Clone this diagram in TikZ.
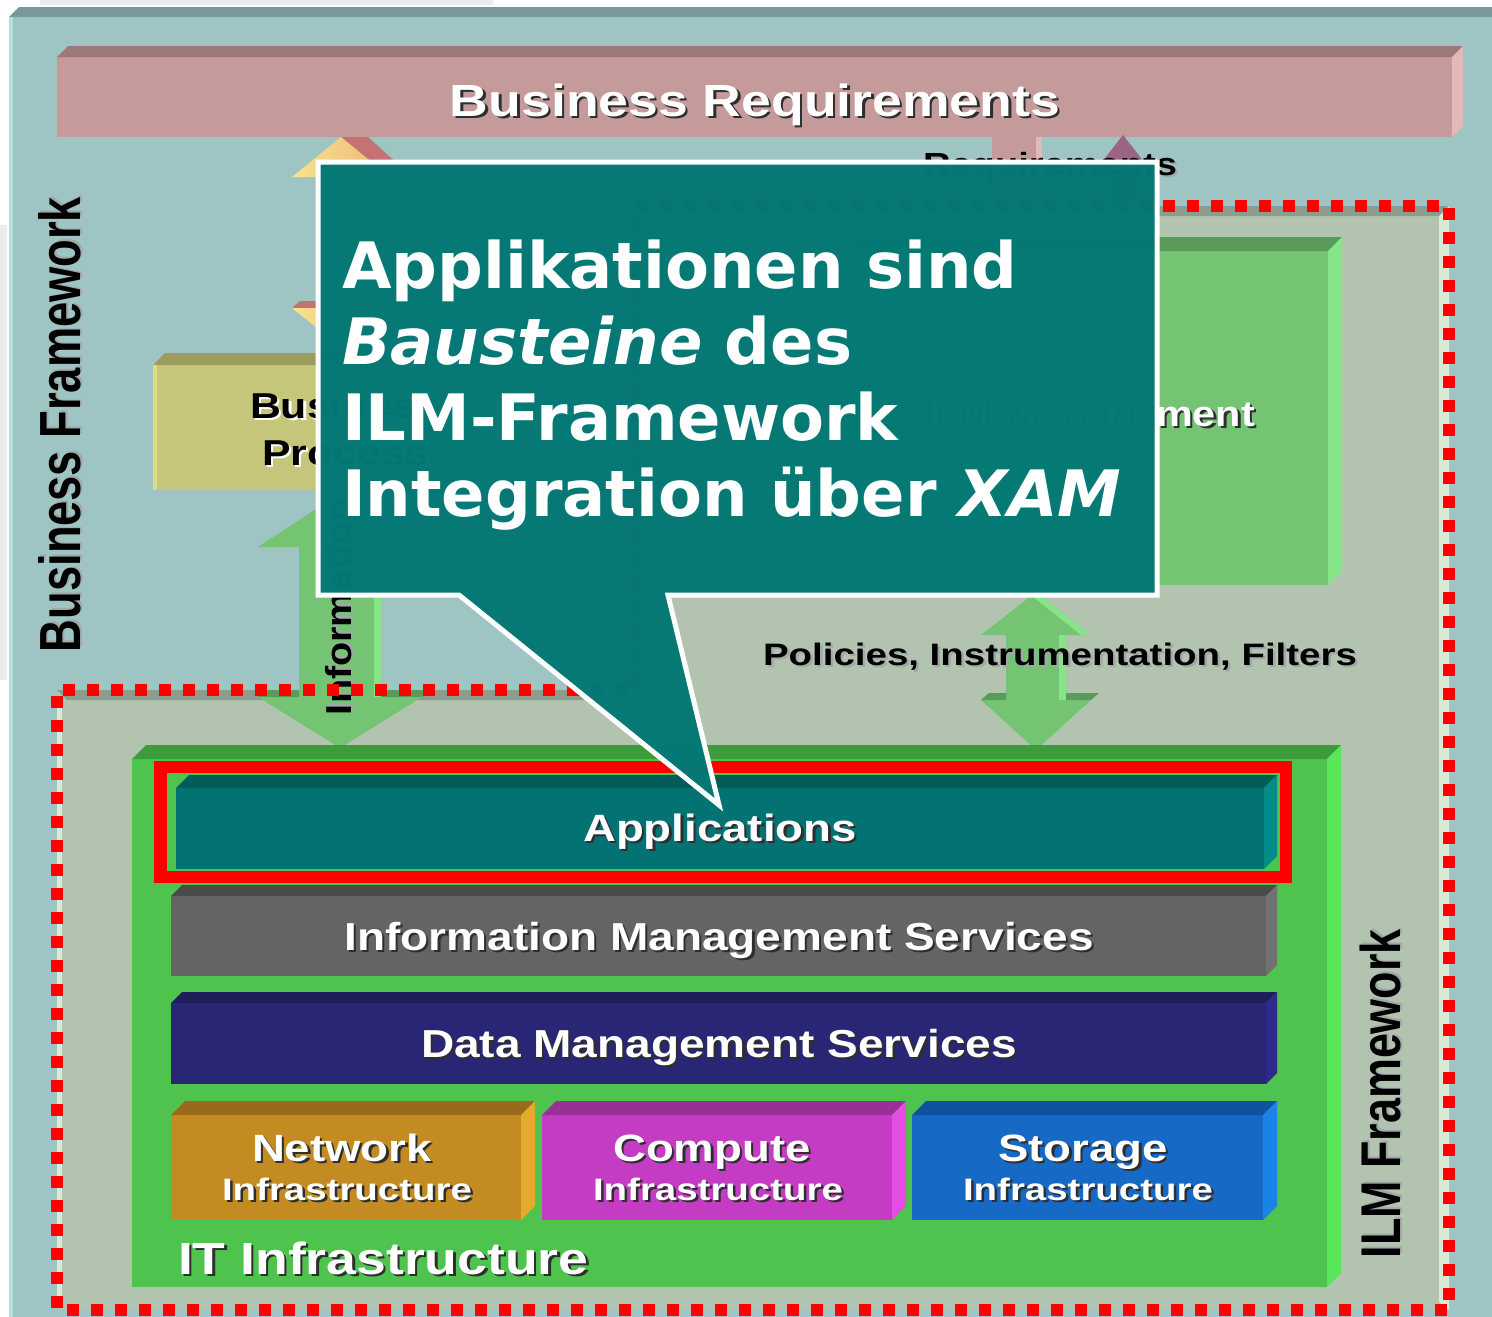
\documentclass[tikz,border=0pt]{standalone}
\usepackage{fontspec}
\usepackage{graphicx}
\setmainfont{Liberation Sans}
\newfontfamily\calloutfont{DejaVu Sans}[BoldFont={DejaVu Sans Bold},ItalicFont={DejaVu Sans Oblique},BoldItalicFont={DejaVu Sans Bold Oblique}]

% panel and layer colours
\definecolor{scrap}{HTML}{ECECEC}
\definecolor{panel}{HTML}{9EC4C4}
\definecolor{paneltop}{HTML}{799A9A}
\definecolor{paneledge}{HTML}{B6E0E0}
\definecolor{brfront}{HTML}{C49A9A}
\definecolor{brtop}{HTML}{9C7878}
\definecolor{brside}{HTML}{E4B8B8}
\definecolor{bpfront}{HTML}{C6C67A}
\definecolor{bptop}{HTML}{9C9C5E}
\definecolor{bpside}{HTML}{DCDC88}
\definecolor{ilmfill}{HTML}{B2C4B0}
\definecolor{ilmtop}{HTML}{8E9C8C}
\definecolor{ilmlight}{HTML}{D8EAD6}
\definecolor{mgfront}{HTML}{74C474}
\definecolor{mgtop}{HTML}{5A9A5A}
\definecolor{mgside}{HTML}{88E488}
\definecolor{itfront}{HTML}{4EC34E}
\definecolor{ittop}{HTML}{3C9C3C}
\definecolor{itside}{HTML}{5AE65A}
\definecolor{appfront}{HTML}{027372}
\definecolor{apptop}{HTML}{025C5A}
\definecolor{appside}{HTML}{048C8A}
\definecolor{imsfront}{HTML}{646464}
\definecolor{imstop}{HTML}{4A4A4A}
\definecolor{imsside}{HTML}{727272}
\definecolor{dmsfront}{HTML}{292675}
\definecolor{dmstop}{HTML}{201D5A}
\definecolor{dmsside}{HTML}{2C2A8C}
\definecolor{netfront}{HTML}{C48B22}
\definecolor{nettop}{HTML}{9A6A1C}
\definecolor{netside}{HTML}{E4AA2C}
\definecolor{cmpfront}{HTML}{C43CC4}
\definecolor{cmptop}{HTML}{983098}
\definecolor{cmpside}{HTML}{E44CE4}
\definecolor{stofront}{HTML}{166AC6}
\definecolor{stotop}{HTML}{0E52A0}
\definecolor{stoside}{HTML}{1A82E8}
\definecolor{arrowyel}{HTML}{F6E48C}
\definecolor{arroworg}{HTML}{F2B478}
\definecolor{arrowred}{HTML}{C47272}
\definecolor{reqpurple}{HTML}{9C6484}
\definecolor{callout}{HTML}{047875}
\definecolor{darkshadow}{HTML}{2E2E2E}
\definecolor{lightshadow}{HTML}{A0A8A8}

% 3D slab: x0, y0, x1, y1, depth, front, top, side
\newcommand\slab[8]{%
  \fill[#6] (#1,#2+#5) rectangle (#3-#5,#4);
  \fill[#7] (#1,#2+#5) -- (#1+#5,#2) -- (#3,#2) -- (#3-#5,#2+#5) -- cycle;
  \fill[#8] (#3-#5,#2+#5) -- (#3,#2) -- (#3,#4-#5) -- (#3-#5,#4) -- cycle;}

% text with a drop shadow: shadow colour, text colour, text
\newcommand\shtxt[3]{\leavevmode\rlap{\kern2pt\raisebox{-2pt}{\textcolor{#1}{#3}}}\textcolor{#2}{#3}}
\newcommand\fs[1]{\fontsize{#1}{#1}\selectfont}

\tikzset{
  lbl/.style={inner sep=0pt, outer sep=0pt, font=\bfseries},
  cline/.style={inner sep=0pt, outer sep=0pt, anchor=base west, text=white,
    font=\calloutfont\bfseries\fontsize{64}{76}\selectfont},
}

\begin{document}
\begin{tikzpicture}[x=1pt,y=-1pt]
\useasboundingbox (0,0) rectangle (1492,1317);
\fill[white] (0,0) rectangle (1492,1317);
\fill[scrap] (40,0) rectangle (493,5);
\fill[scrap] (0,225) rectangle (7,680);

% outer business framework panel
\fill[panel] (9,17) -- (19,7) -- (1492,7) -- (1492,1317) -- (9,1317) -- cycle;
\fill[paneltop] (9,17) -- (19,7) -- (1492,7) -- (1492,17) -- cycle;
\fill[paneledge] (9,17) rectangle (13,1317);

% business requirements bar
\slab{57}{46}{1463}{137}{11}{brfront}{brtop}{brside}
\node[lbl, anchor=base] (breq) at (755,116)
  {\fs{45}\scalebox{1.19}[1]{\shtxt{darkshadow}{white}{Business Requirements}}};

% double arrow between requirements and business process
\fill[arrowred] (341,137) -- (368,137) -- (400,166) -- (373,166) -- cycle;
\shade[left color=arrowyel, right color=arroworg] (292,177) -- (341,137) -- (390,177) -- cycle;
\fill[arrowyel] (316,177) rectangle (366,302);
\fill[arrowred] (292,308) -- (300,301) -- (400,301) -- (392,308) -- cycle;
\shade[left color=arrowyel, right color=arroworg] (292,308) -- (392,308) -- (342,348) -- cycle;

% requirement arrows towards ILM management
\fill[brfront] (992,137) rectangle (1036,250);
\fill[brside] (1036,137) rectangle (1042,250);
\fill[reqpurple] (1123,135) -- (1144,162) -- (1102,162) -- cycle;
\fill[reqpurple] (1110,162) rectangle (1136,250);
\node[lbl, anchor=base east] (req) at (1177,175)
  {\fs{32}\scalebox{1.19}[1]{\shtxt{lightshadow}{black}{Requirements}}};

% business process box
\slab{153}{353}{537}{490}{12}{bpfront}{bptop}{bpside}
\fill[bpside] (153,365) rectangle (157,490);
\node[lbl, anchor=base west] (bp1) at (250,418)
  {\fs{36}\scalebox{1.19}[1]{\shtxt{white}{black}{Business}}};
\node[lbl, anchor=base west] (bp2) at (262,465)
  {\fs{36}\scalebox{1.19}[1]{\shtxt{white}{black}{Process}}};

% ILM framework area
\fill[ilmfill] (635,206) -- (1449,206) -- (1449,1310) -- (57,1310) -- (57,690) -- (635,690) -- cycle;
\fill[ilmtop] (635,206) -- (1449,206) -- (1439,216) -- (635,216) -- cycle;
\fill[ilmtop] (57,690) -- (635,690) -- (635,700) -- (67,700) -- cycle;
\fill[ilmlight] (1439,216) -- (1449,206) -- (1449,1310) -- (1439,1302) -- cycle;
\fill[ilmlight] (57,700) rectangle (62,1302);

% ILM management box
\slab{845}{237}{1342}{585}{14}{mgfront}{mgtop}{mgside}
\node[lbl, anchor=base east] (ilmm) at (1255,426)
  {\fs{36}\scalebox{1.15}[1]{\shtxt{darkshadow}{white}{ILM Management}}};

% information arrow
\fill[mgfront] (340,493) -- (422,547) -- (381,547) -- (381,697) -- (422,697) -- (340,748)
  -- (258,697) -- (299,697) -- (299,547) -- (258,547) -- cycle;
\fill[mgside] (374,547) rectangle (381,697);
\fill[mgside] (340,493) -- (422,547) -- (412,547) -- (336,497) -- cycle;
\fill[mgtop] (258,697) -- (266,690) -- (299,690) -- (299,697) -- cycle;
\fill[mgtop] (381,697) -- (381,690) -- (430,690) -- (422,697) -- cycle;
\node[lbl, anchor=base west, rotate=90] (info) at (351,715)
  {\fs{36}\scalebox{1.1}[1]{\shtxt{lightshadow}{black}{Information}}};

% policies arrow
\fill[mgfront] (1036,592) -- (1091,635) -- (1066,635) -- (1066,700) -- (1091,700) -- (1036,750)
  -- (981,700) -- (1006,700) -- (1006,635) -- (981,635) -- cycle;
\fill[mgside] (1059,635) rectangle (1066,700);
\fill[mgside] (1036,592) -- (1091,635) -- (1081,635) -- (1032,596) -- cycle;
\fill[mgtop] (981,700) -- (989,693) -- (1006,693) -- (1006,700) -- cycle;
\fill[mgtop] (1066,700) -- (1066,693) -- (1099,693) -- (1091,700) -- cycle;
\node[lbl, anchor=base] (pol) at (1060,665)
  {\fs{31}\scalebox{1.24}[1]{\shtxt{lightshadow}{black}{Policies, Instrumentation, Filters}}};

% IT infrastructure stack
\slab{132}{745}{1341}{1287}{14}{itfront}{ittop}{itside}
\slab{176}{775}{1277}{869}{13}{appfront}{apptop}{appside}
\slab{171}{885}{1277}{976}{11}{imsfront}{imstop}{imsside}
\slab{171}{992}{1277}{1084}{11}{dmsfront}{dmstop}{dmsside}
\slab{171}{1101}{535}{1220}{14}{netfront}{nettop}{netside}
\slab{542}{1101}{906}{1220}{14}{cmpfront}{cmptop}{cmpside}
\slab{912}{1101}{1277}{1220}{14}{stofront}{stotop}{stoside}

\node[lbl, anchor=base] (apps) at (720,841)
  {\fs{38}\scalebox{1.2}[1]{\shtxt{darkshadow}{white}{Applications}}};
\node[lbl, anchor=base] (ims) at (719,950)
  {\fs{39}\scalebox{1.18}[1]{\shtxt{darkshadow}{white}{Information Management Services}}};
\node[lbl, anchor=base] (dms) at (719,1057)
  {\fs{39}\scalebox{1.18}[1]{\shtxt{darkshadow}{white}{Data Management Services}}};
\node[lbl, anchor=base] (net1) at (342,1161)
  {\fs{38}\scalebox{1.2}[1]{\shtxt{darkshadow}{white}{Network}}};
\node[lbl, anchor=base] (net2) at (347,1200)
  {\fs{31}\scalebox{1.24}[1]{\shtxt{darkshadow}{white}{Infrastructure}}};
\node[lbl, anchor=base] (cmp1) at (712,1161)
  {\fs{38}\scalebox{1.2}[1]{\shtxt{darkshadow}{white}{Compute}}};
\node[lbl, anchor=base] (cmp2) at (718,1200)
  {\fs{31}\scalebox{1.24}[1]{\shtxt{darkshadow}{white}{Infrastructure}}};
\node[lbl, anchor=base] (sto1) at (1083,1161)
  {\fs{38}\scalebox{1.2}[1]{\shtxt{darkshadow}{white}{Storage}}};
\node[lbl, anchor=base] (sto2) at (1088,1200)
  {\fs{31}\scalebox{1.24}[1]{\shtxt{darkshadow}{white}{Infrastructure}}};
\node[lbl, anchor=base west] (itinf) at (178,1274)
  {\fs{45}\scalebox{1.19}[1]{\shtxt{darkshadow}{white}{IT Infrastructure}}};

% highlight around the application layer
\draw[red, line width=12.5] (160.5,767) rectangle (1286,877);

% dotted boundary of the ILM framework
\draw[red, line width=12, dash pattern=on 12 off 12]
  (635,206) -- (1449,206) -- (1449,1310) -- (57,1310) -- (57,690) -- (635,690) -- cycle;

% framework titles
\node[lbl, anchor=base west, rotate=90] (bfw) at (80,652)
  {\fs{58}\scalebox{0.78}[1]{\shtxt{lightshadow}{black}{Business Framework}}};
\node[lbl, anchor=base west, rotate=90] (ilmfw) at (1400,1258)
  {\fs{56}\scalebox{0.8}[1]{\shtxt{lightshadow}{black}{ILM Framework}}};

% speech bubble
\draw[white, line width=5, line join=miter, fill=callout, fill opacity=0.985]
  (318,162) -- (1157,162) -- (1157,595) -- (668,595) -- (719,805) -- (459,595) -- (318,595) -- cycle;
\node[cline] (c1) at (342,288) {Applikationen sind};
\node[cline] (c2) at (342,364) {\textit{Bausteine} des};
\node[cline] (c3) at (342,440) {ILM-Framework};
\node[cline] (c4) at (342,516) {Integration über \textit{XAM}};
\end{tikzpicture}
\end{document}
